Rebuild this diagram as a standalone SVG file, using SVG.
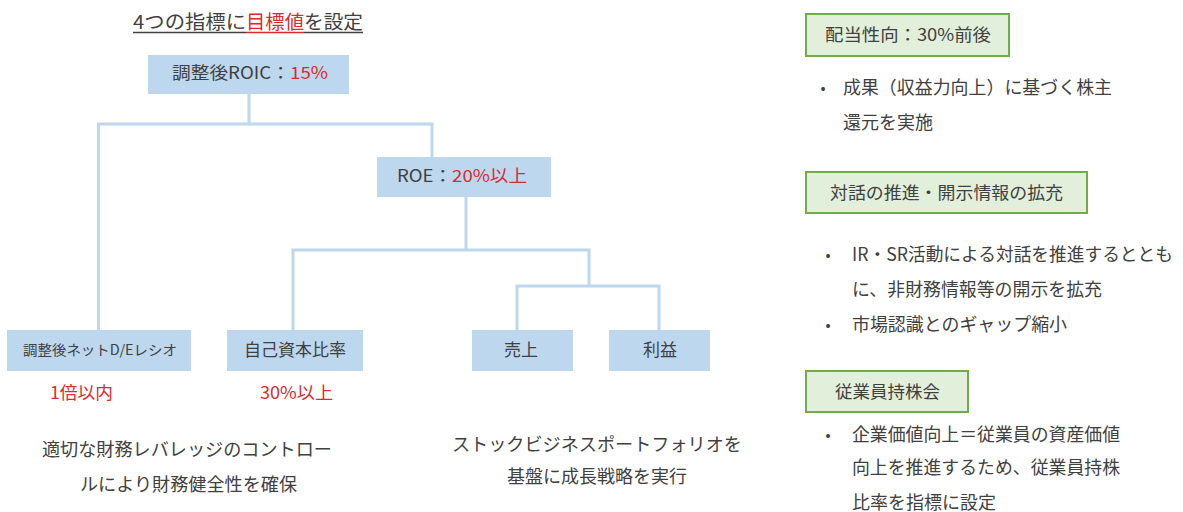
<svg xmlns="http://www.w3.org/2000/svg" width="1183" height="512" viewBox="0 0 1183 512">
<style>
text{font-family:"Noto Sans CJK JP","Noto Sans",sans-serif;fill:#404040}
.r{fill:#d92b2b}
.box{fill:#bdd7ee}
.gbox{fill:#e2efda;stroke:#70ad47;stroke-width:2}
.ln{fill:none;stroke:#bdd7ee;stroke-width:3}
.s17{font-size:17px}
.s18{font-size:18px}
.c{text-anchor:middle}
</style>
<rect width="1183" height="512" fill="#ffffff"/>
<g id="title">
<text x="133" y="29" textLength="113" lengthAdjust="spacingAndGlyphs" style="font-size:19px">4つの指標に</text>
<text class="r" x="246" y="29" textLength="58" lengthAdjust="spacingAndGlyphs" style="font-size:19px">目標値</text>
<text x="304" y="29" textLength="59" lengthAdjust="spacingAndGlyphs" style="font-size:19px">を設定</text>
<line x1="133" y1="32.5" x2="246" y2="32.5" stroke="#404040" stroke-width="1.3"/>
<line x1="246" y1="32.5" x2="304" y2="32.5" stroke="#d92b2b" stroke-width="1.3"/>
<line x1="304" y1="32.5" x2="363" y2="32.5" stroke="#404040" stroke-width="1.3"/>
</g>
<g id="connectors">
<path class="ln" d="M249 94 V124"/>
<path class="ln" d="M98.5 330 V124 H432 V157"/>
<path class="ln" d="M466 197 V250"/>
<path class="ln" d="M293 330 V250 H589 V286"/>
<path class="ln" d="M517 330 V286 H659 V330"/>
</g>
<g id="roic">
<rect class="box" x="148" y="55" width="201" height="39"/>
<text class="s17" x="172" y="79" textLength="156" lengthAdjust="spacingAndGlyphs">調整後ROIC：<tspan class="r">15%</tspan></text>
</g>
<g id="roe">
<rect class="box" x="377" y="157" width="174" height="40"/>
<text class="s17" x="397" y="182" textLength="130" lengthAdjust="spacingAndGlyphs">ROE：<tspan class="r">20%以上</tspan></text>
</g>
<g id="de">
<rect class="box" x="7" y="330" width="184" height="41"/>
<text x="23" y="355" style="font-size:14px" textLength="154" lengthAdjust="spacingAndGlyphs">調整後ネットD/Eレシオ</text>
<text class="s17 r" x="50" y="399" textLength="63" lengthAdjust="spacingAndGlyphs">1倍以内</text>
</g>
<g id="equity">
<rect class="box" x="227" y="330" width="136" height="41"/>
<text class="s17 c" x="295" y="356">自己資本比率</text>
<text class="s17 r" x="260" y="399" textLength="73" lengthAdjust="spacingAndGlyphs">30%以上</text>
</g>
<g id="sales">
<rect class="box" x="472" y="330" width="101" height="41"/>
<text class="s17 c" x="521" y="356">売上</text>
</g>
<g id="profit">
<rect class="box" x="609" y="330" width="101" height="41"/>
<text class="s17 c" x="660" y="356">利益</text>
</g>
<g id="note-left">
<text class="s18" x="42" y="456" textLength="290" lengthAdjust="spacingAndGlyphs">適切な財務レバレッジのコントロー</text>
<text class="s18" x="80" y="491" textLength="217" lengthAdjust="spacingAndGlyphs">ルにより財務健全性を確保</text>
</g>
<g id="note-mid">
<text class="s18" x="452" y="451" textLength="290" lengthAdjust="spacingAndGlyphs">ストックビジネスポートフォリオを</text>
<text class="s18 c" x="597" y="483">基盤に成長戦略を実行</text>
</g>
<g id="dividend">
<rect class="gbox" x="806" y="14" width="203" height="42"/>
<text class="s17" x="825" y="41" textLength="166" lengthAdjust="spacingAndGlyphs">配当性向：30%前後</text>
<text x="823" y="93" style="font-size:15px" class="c">•</text>
<text class="s18" x="843" y="94" textLength="269" lengthAdjust="spacingAndGlyphs">成果（収益力向上）に基づく株主</text>
<text class="s18" x="843" y="129">還元を実施</text>
</g>
<g id="dialogue">
<rect class="gbox" x="806" y="172" width="281" height="41"/>
<text class="s17" x="830" y="199" textLength="233" lengthAdjust="spacingAndGlyphs">対話の推進・開示情報の拡充</text>
<text x="828" y="260" style="font-size:15px" class="c">•</text>
<text class="s18" x="852" y="261" textLength="321" lengthAdjust="spacingAndGlyphs">IR・SR活動による対話を推進するととも</text>
<text class="s18" x="852" y="296" textLength="250" lengthAdjust="spacingAndGlyphs">に、非財務情報等の開示を拡充</text>
<text x="828" y="330" style="font-size:15px" class="c">•</text>
<text class="s18" x="852" y="331" textLength="215" lengthAdjust="spacingAndGlyphs">市場認識とのギャップ縮小</text>
</g>
<g id="esop">
<rect class="gbox" x="806" y="371" width="162" height="41"/>
<text class="s17" x="835" y="398" textLength="105" lengthAdjust="spacingAndGlyphs">従業員持株会</text>
<text x="828" y="440" style="font-size:15px" class="c">•</text>
<text class="s18" x="852" y="441" textLength="268" lengthAdjust="spacingAndGlyphs">企業価値向上＝従業員の資産価値</text>
<text class="s18" x="852" y="474" textLength="268" lengthAdjust="spacingAndGlyphs">向上を推進するため、従業員持株</text>
<text class="s18" x="852" y="509">比率を指標に設定</text>
</g>
</svg>
